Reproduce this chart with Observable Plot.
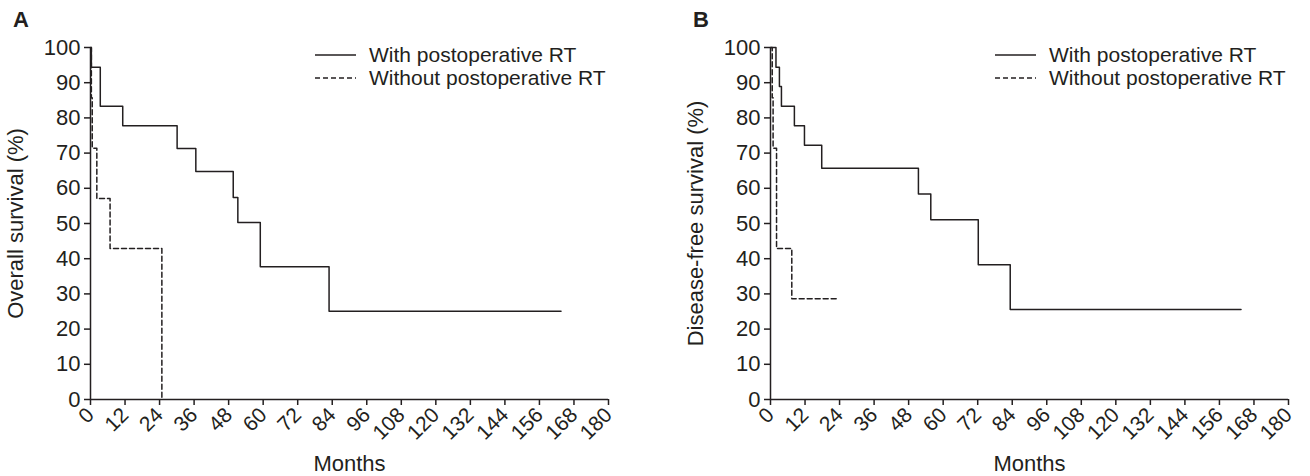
<!DOCTYPE html>
<html>
<head>
<meta charset="utf-8">
<script src="https://cdn.jsdelivr.net/npm/d3@7"></script>
<script src="https://cdn.jsdelivr.net/npm/@observablehq/plot@0.6"></script>
<style>
  body { margin: 0; background: #fff; font-family: "Liberation Sans", Arial, sans-serif; color: #231f20; }
  #wrap { display: flex; width: 1310px; height: 476px; }
  .panel { position: relative; }
  .letter { position: absolute; left: 13px; top: 8px; font-weight: bold; font-size: 22px; line-height: 24px; }
  .legend { position: absolute; left: 315px; top: 43px; font-size: 21px; }
  .legend .row { display: flex; align-items: center; height: 23px; white-space: nowrap; }
  .legend svg { margin-right: 13px; }
</style>
</head>
<body>
<div id="wrap"></div>
<script>
// ---- data ----
const panelLetters = ["A", "B"];
const yTitles = ["Overall survival (%)", "Disease-free survival (%)"];
const xTitle = "Months";
const seriesNames = ["With postoperative RT", "Without postoperative RT"];
const monthTicks = [0, 12, 24, 36, 48, 60, 72, 84, 96, 108, 120, 132, 144, 156, 168, 180];
const percentTicks = [0, 10, 20, 30, 40, 50, 60, 70, 80, 90, 100];

// Panel A: overall survival
const osWithMonths    = [0, 0.3, 3.4, 11.2, 30.1, 36.6, 49.6, 51.2, 59.0, 82.9, 163.5];
const osWithSurv      = [100, 94.4, 83.3, 77.8, 71.3, 64.8, 57.4, 50.3, 37.7, 25.1, 25.1];
const osWithoutMonths = [0, 0.3, 0.6, 2.2, 6.8, 24.8];
const osWithoutSurv   = [100, 85.7, 71.4, 57.1, 42.9, 0];

// Panel B: disease-free survival
const dfsWithMonths    = [0, 1.9, 3.1, 3.8, 8.3, 11.8, 17.8, 51.4, 55.7, 72.2, 83.3, 163.5];
const dfsWithSurv      = [100, 94.4, 88.9, 83.3, 77.8, 72.2, 65.7, 58.4, 51.1, 38.3, 25.6, 25.6];
const dfsWithoutMonths = [0, 0.6, 0.9, 2.1, 7.4, 23.2];
const dfsWithoutSurv   = [100, 85.7, 71.4, 42.9, 28.6, 28.6];

// ---- drawing ----
const ink = "#231f20";
const dash = "5,3";

function toRows(t, s) { return t.map((m, i) => ({month: m, surv: s[i]})); }

function panel(idx, width, marginRight, withT, withS, withoutT, withoutS) {
  const div = document.createElement("div");
  div.className = "panel";
  div.style.width = width + "px";

  const chart = Plot.plot({
    width, height: 476,
    marginLeft: 90, marginRight, marginTop: 47, marginBottom: 77,
    style: { fontFamily: "'Liberation Sans', Arial, sans-serif", fontSize: "22px", color: ink, background: "white" },
    x: { domain: [0, 180] },
    y: { domain: [0, 100] },
    marks: [
      Plot.axisY({ ticks: percentTicks, tickSize: 6, tickPadding: 4, strokeWidth: 1.5, fontSize: 22, label: null }),
      Plot.axisY({ ticks: [], label: yTitles[idx], labelAnchor: "center", labelOffset: 83, labelArrow: "none", fontSize: 22 }),
      Plot.axisX({ ticks: monthTicks, tickSize: 6, tickPadding: 6, tickRotate: -45, strokeWidth: 1.5, fontSize: 21, label: null }),
      Plot.axisX({ ticks: [], label: xTitle, labelAnchor: "center", labelOffset: 71, labelArrow: "none", fontSize: 22 }),
      Plot.ruleX([0], { stroke: ink, strokeWidth: 1.5 }),
      Plot.ruleY([0], { stroke: ink, strokeWidth: 1.5 }),
      Plot.line(toRows(withT, withS), { x: "month", y: "surv", curve: "step-after", stroke: ink, strokeWidth: 1.5 }),
      Plot.line(toRows(withoutT, withoutS), { x: "month", y: "surv", curve: "step-after", stroke: ink, strokeWidth: 1.5, strokeDasharray: dash })
    ]
  });
  div.appendChild(chart);

  const letter = document.createElement("div");
  letter.className = "letter";
  letter.textContent = panelLetters[idx];
  div.appendChild(letter);

  const legend = document.createElement("div");
  legend.className = "legend";
  seriesNames.forEach((name, i) => {
    const row = document.createElement("div");
    row.className = "row";
    row.innerHTML = `<svg width="41" height="4"><line x1="0" x2="41" y1="2" y2="2" stroke="${ink}" stroke-width="1.5" ${i ? `stroke-dasharray="${dash}"` : ""}/></svg>`;
    const span = document.createElement("span");
    span.textContent = name;
    row.appendChild(span);
    legend.appendChild(row);
  });
  div.appendChild(legend);
  return div;
}

const wrap = document.getElementById("wrap");
wrap.appendChild(panel(0, 680, 72, osWithMonths, osWithSurv, osWithoutMonths, osWithoutSurv));
wrap.appendChild(panel(1, 630, 22, dfsWithMonths, dfsWithSurv, dfsWithoutMonths, dfsWithoutSurv));
</script>
</body>
</html>
